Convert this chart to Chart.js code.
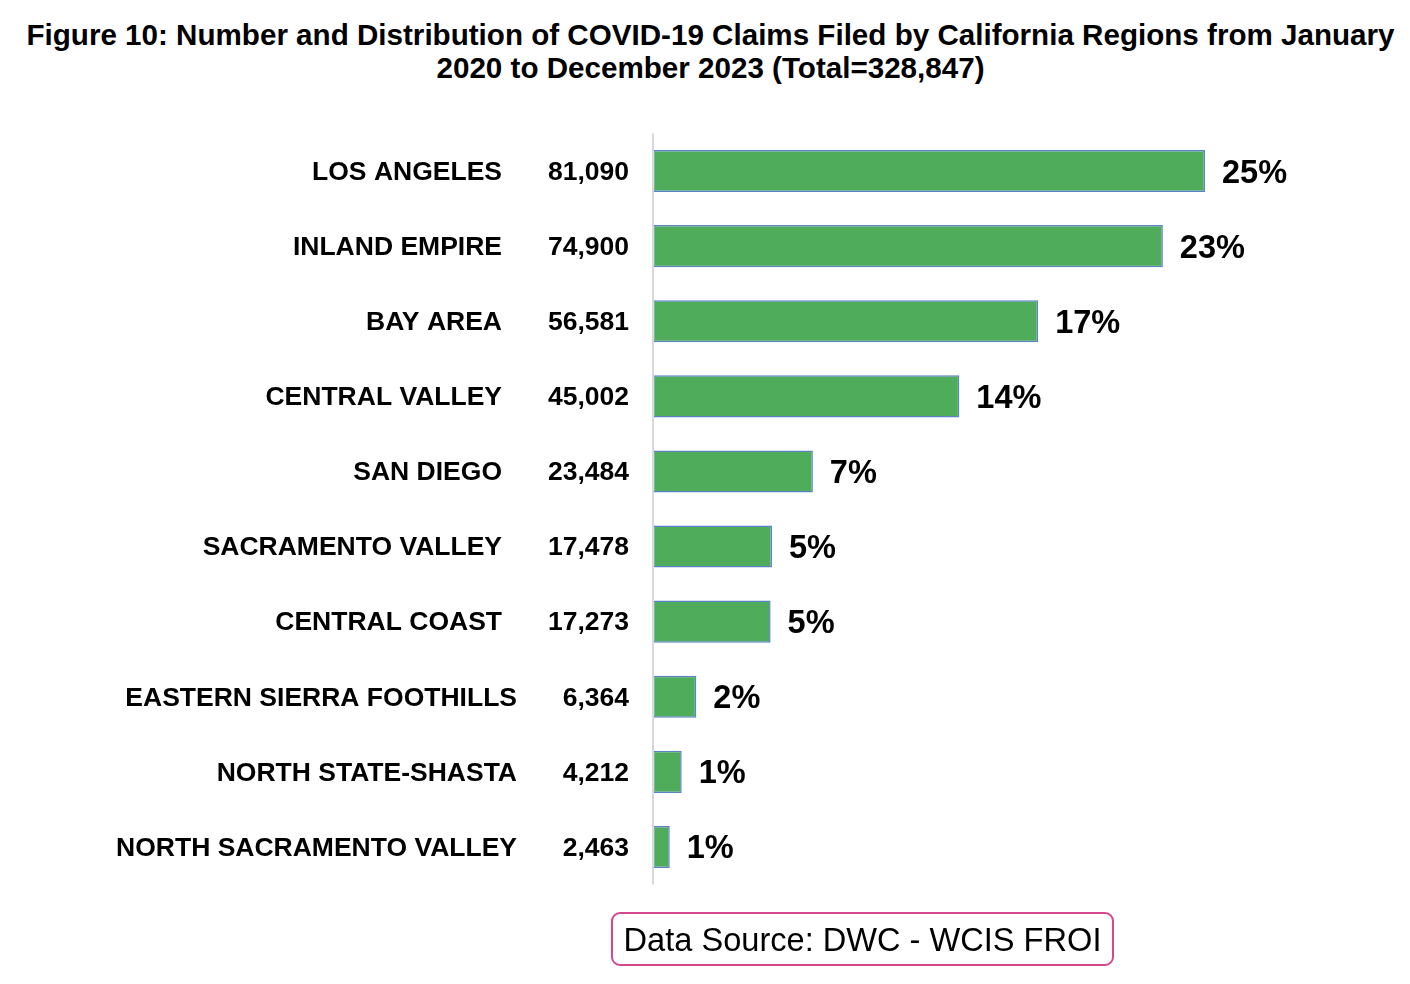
<!DOCTYPE html>
<html>
<head>
<meta charset="utf-8">
<script src="https://cdn.jsdelivr.net/npm/chart.js@4/dist/chart.umd.min.js"></script>
<style>
  body { margin: 0; background: #fff; font-family: 'Liberation Sans', Arial, sans-serif; }
  #wrap { position: relative; width: 1410px; height: 984px; overflow: hidden; }
  #title {
    position: absolute; left: 0; top: 18px; width: 1421px; text-align: center;
    font-weight: bold; font-size: 29.6px; line-height: 33px; color: #000;
  }
  #chart { position: absolute; left: 0; top: 0; }
  #source {
    position: absolute; left: 611px; top: 912px; width: 499px; height: 50px;
    border: 2.5px solid #d6478f; border-radius: 9px; box-sizing: content-box;
    font-size: 32.6px; line-height: 52px; text-align: center; color: #000;
  }
</style>
</head>
<body>
<div id="wrap">
  <div id="title">Figure 10: Number and Distribution of COVID-19 Claims Filed by California Regions from January<br>2020 to December 2023 (Total=328,847)</div>
  <canvas id="chart" width="1410" height="984"></canvas>
  <div id="source">Data Source: DWC - WCIS FROI</div>
</div>
<script>
// regions, top to bottom
const regions = [
  'LOS ANGELES',
  'INLAND EMPIRE',
  'BAY AREA',
  'CENTRAL VALLEY',
  'SAN DIEGO',
  'SACRAMENTO VALLEY',
  'CENTRAL COAST',
  'EASTERN SIERRA FOOTHILLS',
  'NORTH STATE-SHASTA',
  'NORTH SACRAMENTO VALLEY'
]
const claims = [81090, 74900, 56581, 45002, 23484, 17478, 17273, 6364, 4212, 2463]
const shares = ['25%', '23%', '17%', '14%', '7%', '5%', '5%', '2%', '1%', '1%']

// long names sit a little further right in the original
const longNames = ['EASTERN SIERRA FOOTHILLS', 'NORTH STATE-SHASTA', 'NORTH SACRAMENTO VALLEY']

const labelPlugin = {
  id: 'rowLabels',
  afterDatasetsDraw (chart) {
    const { ctx, chartArea, scales } = chart
    const x0 = scales.x.getPixelForValue(0)

    // vertical axis line
    ctx.save()
    ctx.strokeStyle = '#d9d9d9'
    ctx.lineWidth = 2
    ctx.beginPath()
    ctx.moveTo(x0, chartArea.top)
    ctx.lineTo(x0, chartArea.bottom)
    ctx.stroke()

    ctx.fillStyle = '#000'
    ctx.textBaseline = 'middle'
    regions.forEach((name, i) => {
      const y = scales.y.getPixelForValue(i)

      ctx.font = "bold 26.5px 'Liberation Sans', Arial, sans-serif"
      ctx.textAlign = 'right'
      ctx.fillText(name, longNames.includes(name) ? 517 : 502, y + 1.5)
      ctx.fillText(claims[i].toLocaleString('en-US'), 629, y + 1.5)

      // percent after the bar end
      ctx.font = "bold 32.5px 'Liberation Sans', Arial, sans-serif"
      ctx.textAlign = 'left'
      ctx.fillText(shares[i], scales.x.getPixelForValue(claims[i]) + 17, y + 2.5)
    })
    ctx.restore()
  }
}

new Chart(document.getElementById('chart'), {
  type: 'bar',
  data: {
    labels: regions,
    datasets: [{
      data: claims,
      backgroundColor: '#4eac5b',
      borderColor: '#5b84c8',
      borderWidth: 1.5,
      borderSkipped: false,
      categoryPercentage: 1,
      barPercentage: 0.56
    }]
  },
  options: {
    indexAxis: 'y',
    responsive: false,
    animation: false,
    layout: {
      padding: { left: 653, right: 15, top: 133.5, bottom: 99.5 }
    },
    scales: {
      x: { display: false, min: 0, max: 109000 },
      y: { display: false }
    },
    plugins: {
      legend: { display: false },
      tooltip: { enabled: false }
    }
  },
  plugins: [labelPlugin]
})
</script>
</body>
</html>
